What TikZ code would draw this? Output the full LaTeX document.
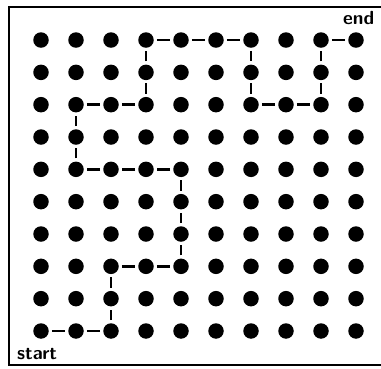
\documentclass[tikz,border=0pt]{standalone}
\usepackage{tikz}
\usetikzlibrary{positioning}
\tikzset{
  dot/.style={circle, fill=black, inner sep=0pt, minimum size=15.5pt},
  link/.style={line width=2.4pt, shorten >=3pt, shorten <=3pt},
  frame/.style={line width=1.4pt},
  tag/.style={font=\sffamily\bfseries\fontsize{19}{19}\selectfont, inner sep=0pt}
}

\begin{document}
\begin{tikzpicture}[x=1pt, y=1pt]
    \useasboundingbox (0,0) rectangle (381,368);
    % frame (right side not drawn)
    \draw[frame] (383,361) -- (9,361) -- (9,3) -- (383,3);

    % grid of dots, d<col>-<row>, row 1 at the bottom
    \foreach \i in {1,...,10} {
        \foreach \j in {1,...,10} {
            \node[dot] (d\i-\j) at ({41+35*(\i-1)}, {37+32.33*(\j-1)}) {};
        }
    }

    % route from start to end
    \foreach \p [remember=\p as \q (initially 1-1)] in
        {2-1,3-1,3-2,3-3,4-3,5-3,5-4,5-5,5-6,4-6,3-6,2-6,2-7,2-8,3-8,4-8,
         4-9,4-10,5-10,6-10,7-10,7-9,7-8,8-8,9-8,9-9,9-10,10-10} {
        \draw[link] (d\q) -- (d\p);
    }

    \node[tag, anchor=base west] (start) at (17,9) {start};
    \node[tag, anchor=base west] (end) at (343,344) {end};
\end{tikzpicture}
\end{document}
